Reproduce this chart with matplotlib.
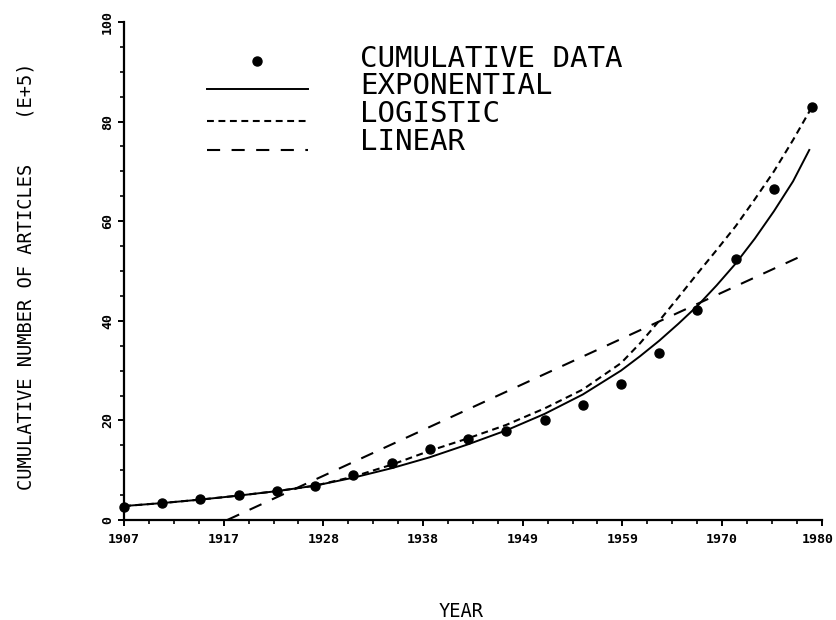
import numpy as np
import matplotlib
matplotlib.use("Agg")
import matplotlib.pyplot as plt
import matplotlib.transforms as mtransforms
from matplotlib.lines import Line2D

# cumulative data points (E+5 articles)
years = [1907, 1911, 1915, 1919, 1923, 1927, 1931, 1935, 1939, 1943,
         1947, 1951, 1955, 1959, 1963, 1967, 1971, 1975, 1979]
articles = [2.7, 3.35, 4.3, 5.0, 5.9, 6.85, 9.0, 11.5, 14.2, 16.2,
            17.9, 20.1, 23.1, 27.4, 33.5, 42.2, 52.5, 66.4, 82.9]

# fitted curves
exp_years = [1907, 1911, 1915, 1919, 1923, 1927, 1931, 1935, 1939, 1943,
             1947, 1951, 1955, 1959, 1961, 1963, 1965, 1967, 1969, 1971,
             1973, 1975, 1977, 1978.7]
exp_vals = [2.8, 3.4, 4.1, 4.9, 5.8, 6.9, 8.5, 10.4, 12.6, 15.2,
            18.0, 21.3, 25.2, 30.0, 32.9, 36.0, 39.4, 43.0, 47.1, 51.5,
            56.5, 62.0, 68.0, 74.3]
log_years = [1907, 1911, 1915, 1919, 1923, 1927, 1931, 1935, 1939, 1943,
             1947, 1951, 1955, 1959, 1961, 1963, 1965, 1967, 1969, 1971,
             1973, 1975, 1977, 1979]
log_vals = [2.8, 3.4, 4.1, 4.9, 5.8, 6.9, 8.7, 11.1, 13.9, 16.4,
            19.1, 22.4, 26.2, 31.5, 35.5, 40.0, 44.7, 49.5, 54.2, 59.0,
            64.4, 70.0, 76.3, 83.0]
lin_years = [1917.8, 1978.1]
lin_vals = [0.0, 53.2]

xtick_labels = ["1907", "1917", "1928", "1938", "1949", "1959", "1970", "1980"]
ytick_vals = [0, 20, 40, 60, 80, 100]

W, H = 836, 620
MONO = "DejaVu Sans Mono"
SHORT = (0, (3.3, 2.2))
LONG = (0, (6.3, 5.5))


def px(x, y):
    return x / W, 1 - y / H


fig = plt.figure(figsize=(W / 100, H / 100), dpi=100)
ax = fig.add_axes([124 / W, 1 - 520 / H, 697.7 / W, 498 / H])

ax.plot(exp_years, exp_vals, color="black", lw=1.4)
ax.plot(log_years, log_vals, color="black", lw=1.5, linestyle=SHORT)
ax.plot(lin_years, lin_vals, color="black", lw=1.5, linestyle=LONG)
ax.plot(years, articles, "o", color="black", ms=6.5, clip_on=False, zorder=5)

ax.set_xlim(1907, 1980)
ax.set_ylim(0, 100)

xt = np.linspace(1907, 1980, len(xtick_labels))
ax.set_xticks(xt)
ax.set_xticklabels(xtick_labels)
ax.set_xticks(np.linspace(1907, 1980, 4 * (len(xtick_labels) - 1) + 1), minor=True)
ax.set_yticks(ytick_vals)
ax.set_yticklabels([str(v) for v in ytick_vals], rotation=90, va="center")
ax.set_yticks(np.arange(0, 101, 5), minor=True)

for lab in ax.get_xticklabels() + ax.get_yticklabels():
    lab.set_family(MONO)
    lab.set_fontweight("bold")
    lab.set_fontsize(9.5)

ax.tick_params(which="major", direction="out", length=4.3, width=1.4, pad=5)
ax.tick_params(which="minor", direction="out", length=2.9, width=1.2)
ax.tick_params(axis="y", pad=3)

# keep the last year label inside the canvas
last = ax.get_xticklabels()[-1]
last.set_transform(last.get_transform() +
                   mtransforms.ScaledTranslation(-4 / 100, 0, fig.dpi_scale_trans))

for s in ["top", "right"]:
    ax.spines[s].set_visible(False)
for s in ["left", "bottom"]:
    ax.spines[s].set_linewidth(1.6)

# legend drawn by hand, like the plotter output
x0, x1 = 207, 308
fig.add_artist(Line2D([px(257, 61)[0]], [px(257, 61)[1]], marker="o", ms=6.5,
                      color="black", transform=fig.transFigure))
fig.add_artist(Line2D([px(x0, 89)[0], px(x1, 89)[0]], [px(x0, 89)[1]] * 2,
                      color="black", lw=1.4, transform=fig.transFigure))
fig.add_artist(Line2D([px(x0, 121)[0], px(x1, 121)[0]], [px(x0, 121)[1]] * 2,
                      color="black", lw=1.5, linestyle=SHORT,
                      transform=fig.transFigure))
fig.add_artist(Line2D([px(x0, 150)[0], px(x1, 150)[0]], [px(x0, 150)[1]] * 2,
                      color="black", lw=1.5, linestyle=LONG,
                      transform=fig.transFigure))

legend_labels = ["CUMULATIVE DATA", "EXPONENTIAL", "LOGISTIC", "LINEAR"]
for i, lab in enumerate(legend_labels):
    fig.text(*px(360, 67 + 27.5 * i), lab, family=MONO, fontsize=21,
             ha="left", va="baseline")

fig.text(*px(461, 617), "YEAR", family=MONO, fontsize=13.5, ha="center", va="baseline")
fig.text(*px(26, 490), "CUMULATIVE NUMBER OF ARTICLES    (E+5)", family=MONO,
         fontsize=13.5, rotation=90, ha="center", va="bottom")

fig.savefig("out.png", dpi=100)
